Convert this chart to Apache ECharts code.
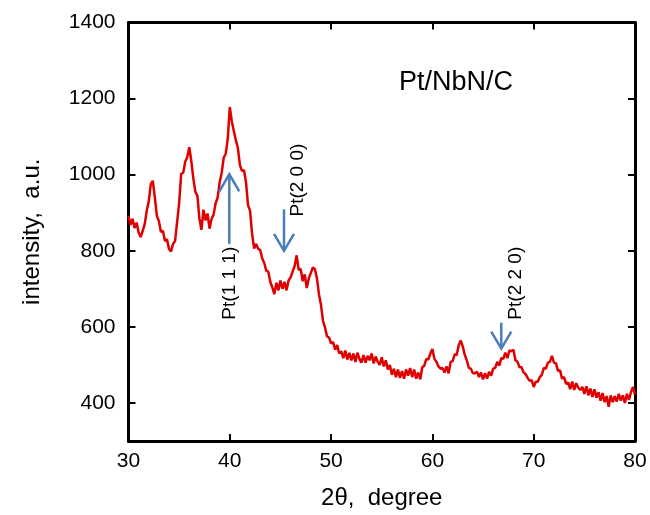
<!DOCTYPE html>
<html>
<head>
<meta charset="utf-8">
<script src="https://cdn.jsdelivr.net/npm/echarts@6/dist/echarts.min.js"></script>
<style>html,body{margin:0;padding:0;background:#fff}#c{width:650px;height:515px}</style>
</head>
<body>
<div id="c"></div>
<script>
// scan grid: 2theta start and step (degrees)
var scanStart = 30.0;
var scanStep = 0.2;
// intensity, one value per scan step (30.0 ... 80.0)
var intensity = [
 892,868,884,860,874,848,836,852,870,905, // 30.0-31.8
 930,975,984,940,892,878,850,852,826,830, // 32.0-33.8
 805,798,818,826,876,925,1002,1005,1034,1046, // 34.0-35.8
 1072,1036,990,955,945,885,855,908,880,898, // 36.0-37.8
 858,884,895,925,940,980,1005,1045,1055,1095, // 38.0-39.8
 1178,1140,1115,1090,1070,1025,1010,1012,980,920, // 40.0-41.8
 905,845,806,818,805,802,780,768,748,745, // 42.0-43.8
 718,704,686,716,696,722,700,718,696,722, // 44.0-45.8
 730,745,760,788,750,752,720,738,702,728, // 46.0-47.8
 742,756,752,728,686,658,616,598,575,572, // 48.0-49.8
 556,560,540,552,530,536,518,538,514,532, // 50.0-51.8
 512,530,508,532,516,506,526,506,524,512, // 52.0-53.8
 530,504,522,508,500,520,496,512,488,500, // 54.0-55.8
 474,490,468,488,466,484,464,488,472,492, // 56.0-57.8
 468,488,464,480,462,494,498,516,514,530, // 58.0-59.8
 542,516,508,496,490,492,480,496,478,508, // 60.0-61.8
 510,528,526,552,564,548,526,512,492,490, // 62.0-63.8
 478,478,482,468,480,462,478,464,482,472, // 64.0-65.8
 490,492,508,498,518,516,532,518,538,536, // 66.0-67.8
 540,512,508,494,494,480,476,466,458,460, // 68.0-69.8
 442,456,456,468,474,492,490,506,508,524, // 70.0-71.8
 506,504,484,486,464,468,450,454,436,456, // 72.0-73.8
 434,452,440,434,442,424,444,420,438,416, // 74.0-75.8
 436,414,428,406,426,402,418,390,420,402, // 76.0-77.8
 418,404,424,406,420,400,424,408,428,442, // 78.0-79.8
 422 // 80.0
];
// axis ticks
var xTicks = [30, 40, 50, 60, 70, 80];
var yTicks = [400, 600, 800, 1000, 1200, 1400];
// peak annotations
var peakNames = ['Pt(1 1 1)', 'Pt(2 0 0)', 'Pt(2 2 0)'];
var arrowX = [39.95, 45.35, 66.8];
var arrowFrom = [818, 909, 611];
var arrowTo = [1001, 800, 543];
var labelX = [40.0, 46.7, 68.2];
var labelY = [619, 890, 619];
var sampleName = 'Pt/NbN/C';

var seriesData = intensity.map(function (v, i) {
  return [+(scanStart + i * scanStep).toFixed(2), v];
});
var arrowData = peakNames.map(function (n, i) {
  return [arrowX[i], arrowFrom[i], arrowTo[i], labelX[i], labelY[i], i];
});

var FONT = '"Liberation Sans", Arial, sans-serif';
var chart = echarts.init(document.getElementById('c'), null, {renderer: 'canvas'});
var axisLine = {show: true, lineStyle: {color: '#000', width: 3}};
var tick = function (vals) {
  return {show: true, inside: true, length: 7, lineStyle: {color: '#000', width: 2}, customValues: vals};
};
var plain = function (v) { return String(v); };
chart.setOption({
  animation: false,
  backgroundColor: '#fff',
  title: {
    text: sampleName, left: 394, top: 64,
    textStyle: {fontFamily: FONT, fontSize: 27, fontWeight: 'normal', color: '#000'}
  },
  grid: {left: 128.5, right: 15, top: 22.5, bottom: 73.5, containLabel: false},
  xAxis: [{
    type: 'value', min: 30, max: 80, interval: 10, position: 'bottom',
    name: '2\u03b8,  degree', nameLocation: 'middle', nameGap: 45,
    nameTextStyle: {fontFamily: FONT, fontSize: 24, color: '#000'},
    axisLine: axisLine, axisTick: tick(xTicks),
    axisLabel: {fontFamily: FONT, fontSize: 21, color: '#000', margin: 10, customValues: xTicks, formatter: plain},
    splitLine: {show: false}
  }, {
    type: 'value', min: 30, max: 80, interval: 10, position: 'top',
    axisLine: axisLine, axisTick: tick(xTicks), axisLabel: {show: false}, splitLine: {show: false}
  }],
  yAxis: [{
    type: 'value', min: 300, max: 1400, interval: 100, position: 'left',
    name: 'intensity,  a.u.', nameLocation: 'middle', nameGap: 84, nameRotate: 90,
    nameTextStyle: {fontFamily: FONT, fontSize: 24, color: '#000'},
    axisLine: axisLine, axisTick: tick(yTicks),
    axisLabel: {fontFamily: FONT, fontSize: 21, color: '#000', margin: 13, customValues: yTicks, formatter: plain},
    splitLine: {show: false}
  }, {
    type: 'value', min: 300, max: 1400, interval: 100, position: 'right',
    axisLine: axisLine, axisTick: tick(yTicks), axisLabel: {show: false}, splitLine: {show: false}
  }],
  series: [{
    type: 'line', data: seriesData, showSymbol: false, symbol: 'none',
    lineStyle: {color: '#e00000', width: 2.5}, z: 3
  }, {
    type: 'custom', data: arrowData, z: 4, clip: false,
    renderItem: function (params, api) {
      var x = api.value(0);
      var p0 = api.coord([x, api.value(1)]);
      var p1 = api.coord([x, api.value(2)]);
      var lp = api.coord([api.value(3), api.value(4)]);
      var idx = api.value(5);
      var dir = p1[1] < p0[1] ? 1 : -1; // 1 = pointing up
      var stroke = {stroke: '#4a7ebb', lineWidth: 2.5, fill: null};
      return {
        type: 'group',
        children: [{
          type: 'line', shape: {x1: p0[0], y1: p0[1], x2: p1[0], y2: p1[1]}, style: stroke
        }, {
          type: 'polyline',
          shape: {points: [[p1[0] - 10, p1[1] + dir * 17], [p1[0], p1[1]], [p1[0] + 10, p1[1] + dir * 17]]},
          style: stroke
        }, {
          type: 'text', x: lp[0], y: lp[1], rotation: Math.PI / 2,
          style: {text: peakNames[idx], fontFamily: FONT, fontSize: 19, fill: '#000', align: 'left', verticalAlign: 'middle'}
        }]
      };
    }
  }]
});
</script>
</body>
</html>
